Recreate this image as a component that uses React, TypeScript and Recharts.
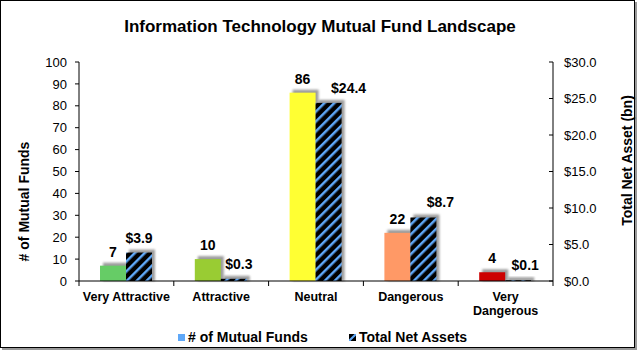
import React from "react";
import {
  BarChart,
  Bar,
  XAxis,
  YAxis,
  Cell,
  LabelList,
  Label,
} from "recharts";

const categories = ["Very Attractive", "Attractive", "Neutral", "Dangerous", "Very Dangerous"];
const fundCounts = [7, 10, 86, 22, 4];
const netAssets = [3.9, 0.3, 24.4, 8.7, 0.1];
const fundColors = ["#66CC66", "#99CC33", "#FFFF33", "#FF9966", "#CC0000"];
const leftTicks = [0, 10, 20, 30, 40, 50, 60, 70, 80, 90, 100];
const rightTicks = [0, 5, 10, 15, 20, 25, 30];

const data = categories.map((name, i) => ({
  name,
  funds: fundCounts[i],
  assets: netAssets[i],
}));

const FONT = "'Liberation Sans', Arial, sans-serif";
const STRIPE_BLUE = "#5FA8F8";

const ShadowBar = (props: any) => {
  const { x, y, width, height, fill } = props;
  if (!height || height <= 0) return null;
  return (
    <g>
      <rect x={x + 3} y={y - 3} width={width} height={height + 3} fill="#8c8c8c" opacity={0.85} filter="url(#blur)" />
      <rect x={x} y={y} width={width} height={height} fill={fill} />
    </g>
  );
};

// the asset labels sit a little to the right in the original, more so where they would hit the fund label
const assetLabelNudge: Record<string, number> = {
  Attractive: 5,
  Neutral: 20,
  Dangerous: 17,
  "Very Dangerous": 7,
};

const AssetLabel = (props: any) => {
  const { x, y, width, value, index } = props;
  const dx = assetLabelNudge[categories[index]] || 0;
  return (
    <text
      x={x + width / 2 + dx}
      y={y - 10}
      textAnchor="middle"
      fontFamily={FONT}
      fontWeight="bold"
      fontSize={14}
      fill="#000"
    >
      {`$${Number(value).toFixed(1)}`}
    </text>
  );
};

// only the last category is too wide for its slot
const tickLines = (label: string) => (label === "Very Dangerous" ? ["Very", "Dangerous"] : [label]);

const CategoryTick = (props: any) => {
  const { x, y, payload, index, visibleTicksCount } = props;
  const half = payload.offset || 0;
  return (
    <g>
      <line x1={x - half} y1={y} x2={x - half} y2={y + 5} stroke="#000" />
      {index === visibleTicksCount - 1 && (
        <line x1={x + half} y1={y} x2={x + half} y2={y + 5} stroke="#000" />
      )}
      <text x={x} y={y + 20} textAnchor="middle" fontFamily={FONT} fontWeight="bold" fontSize={12.5} fill="#000">
        {tickLines(payload.value).map((line, i) => (
          <tspan key={i} x={x} dy={i === 0 ? 0 : 14}>
            {line}
          </tspan>
        ))}
      </text>
    </g>
  );
};

const RightTick = (props: any) => {
  const { x, y, payload } = props;
  return (
    <g>
      <line x1={x - 4} y1={y} x2={x} y2={y} stroke="#000" />
      <text x={x + 11} y={y} dy="0.35em" fontFamily={FONT} fontSize={13} fill="#000">
        {`$${payload.value.toFixed(1)}`}
      </text>
    </g>
  );
};

export default function App() {
  return (
    <div style={{ position: "fixed", left: 0, top: 0, width: 640, height: 352, background: "#fff", fontFamily: FONT }}>
      <div
        style={{
          position: "absolute",
          left: 0,
          top: 0,
          width: 633,
          height: 346,
          border: "1.5px solid #000",
          boxShadow: "2px 2px 0 #999",
        }}
      />
      <div
        style={{
          position: "absolute",
          left: 0,
          width: 640,
          top: 17,
          textAlign: "center",
          fontSize: 17,
          fontWeight: "bold",
        }}
      >
        Information Technology Mutual Fund Landscape
      </div>
      <div style={{ position: "absolute", left: 0, top: 0 }}>
        <BarChart
          width={640}
          height={352}
          data={data}
          margin={{ top: 62, right: 27, bottom: 31, left: 39 }}
          barGap={0}
          barSize={26}
        >
          <defs>
            <pattern id="stripes" width="7" height="7" patternUnits="userSpaceOnUse" patternTransform="rotate(45)">
              <rect width="7" height="7" fill="#000" />
              <rect width="2.5" height="7" fill={STRIPE_BLUE} />
            </pattern>
            <filter id="blur" x="-20%" y="-20%" width="140%" height="140%">
              <feGaussianBlur stdDeviation="0.8" />
            </filter>
          </defs>
          <XAxis
            dataKey="name"
            height={40}
            tickLine={false}
            tickSize={0}
            tickMargin={0}
            axisLine={{ stroke: "#000" }}
            tick={<CategoryTick />}
            interval={0}
          />
          <YAxis
            yAxisId="left"
            width={40}
            domain={[0, 100]}
            ticks={leftTicks}
            interval={0}
            tickSize={4}
            tickMargin={8}
            axisLine={{ stroke: "#000" }}
            tickLine={{ stroke: "#000" }}
            tick={{ fill: "#000", fontSize: 13, fontFamily: FONT }}
          >
            <Label
              content={(p: any) => {
                const vb = p.viewBox;
                const cx = vb.x - 15;
                const cy = vb.y + vb.height / 2 + 30;
                return (
                  <text
                    x={cx}
                    y={cy}
                    transform={`rotate(-90 ${cx} ${cy})`}
                    textAnchor="middle"
                    dy="0.35em"
                    fontFamily={FONT}
                    fontWeight="bold"
                    fontSize={14}
                    fill="#000"
                  >
                    # of Mutual Funds
                  </text>
                );
              }}
            />
          </YAxis>
          <YAxis
            yAxisId="right"
            orientation="right"
            width={60}
            domain={[0, 30]}
            ticks={rightTicks}
            interval={0}
            tickLine={false}
            tickSize={0}
            tickMargin={0}
            axisLine={{ stroke: "#000" }}
            tick={<RightTick />}
          >
            <Label
              content={(p: any) => {
                const vb = p.viewBox;
                const cx = vb.x + 74;
                const cy = vb.y + vb.height / 2 - 11;
                return (
                  <text
                    x={cx}
                    y={cy}
                    transform={`rotate(-90 ${cx} ${cy})`}
                    textAnchor="middle"
                    dy="0.35em"
                    fontFamily={FONT}
                    fontWeight="bold"
                    fontSize={14}
                    fill="#000"
                  >
                    Total Net Asset (bn)
                  </text>
                );
              }}
            />
          </YAxis>
          <Bar yAxisId="left" dataKey="funds" shape={<ShadowBar />} isAnimationActive={false}>
            {fundColors.map((c, i) => (
              <Cell key={i} fill={c} />
            ))}
            <LabelList
              dataKey="funds"
              position="top"
              offset={9}
              fill="#000"
              fontSize={14}
              fontWeight="bold"
              fontFamily={FONT}
            />
          </Bar>
          <Bar yAxisId="right" dataKey="assets" fill="url(#stripes)" shape={<ShadowBar />} isAnimationActive={false}>
            <LabelList dataKey="assets" content={<AssetLabel />} />
          </Bar>
        </BarChart>
      </div>
      <div
        style={{
          position: "absolute",
          top: 329,
          left: 0,
          width: 640,
          fontSize: 14,
          fontWeight: "bold",
        }}
      >
        <div style={{ position: "absolute", left: 178, display: "flex", alignItems: "center" }}>
          <span style={{ width: 7, height: 7, background: STRIPE_BLUE, marginRight: 3, display: "inline-block" }} />
          # of Mutual Funds
        </div>
        <div style={{ position: "absolute", left: 349, display: "flex", alignItems: "center" }}>
          <svg width={7} height={7} style={{ marginRight: 3 }}>
            <rect width={7} height={7} fill="#000" />
            <line x1={0} y1={7} x2={7} y2={0} stroke={STRIPE_BLUE} strokeWidth={2} />
          </svg>
          Total Net Assets
        </div>
      </div>
    </div>
  );
}
